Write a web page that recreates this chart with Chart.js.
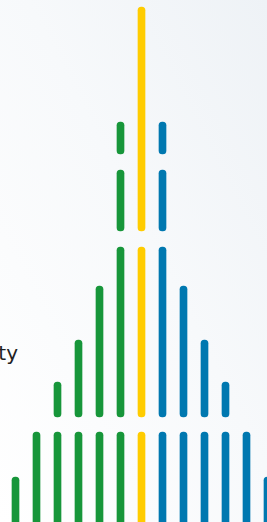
<!DOCTYPE html>
<html>
<head>
<meta charset="utf-8">
<script src="https://cdn.jsdelivr.net/npm/chart.js@4"></script>
<style>
  html, body {
    margin: 0;
    width: 267px;
    height: 522px;
    overflow: hidden;
  }
  body {
    position: relative;
    background: linear-gradient(to bottom left, #eef2f6 0%, #f7f9fb 45%, #ffffff 100%);
  }
  #wrap {
    position: absolute;
    left: 5px;
    top: 0;
  }
  #label {
    position: absolute;
    left: -60px;
    width: 78px;
    top: 343px;
    text-align: right;
    font: 20px "DejaVu Sans", sans-serif;
    line-height: 20px;
    color: #222222;
  }
</style>
</head>
<body>
<div id="label">ty</div>
<div id="wrap"><canvas id="myChart" width="273" height="522"></canvas></div>
<script>
  // one column per category, colour by side of the peak
  const columns = ['1', '2', '3', '4', '5', '6', '7', '8', '9', '10', '11', '12', '13'];
  const columnColors = ['#17963a', '#17963a', '#17963a', '#17963a', '#17963a', '#17963a',
    '#ffcc00', '#0078b0', '#0078b0', '#0078b0', '#0078b0', '#0078b0', '#0078b0'];

  // segments of each column, [from, to], stacked with gaps
  const level1 = [[-10, 45], [-10, 90], [-10, 90], [-10, 90], [-10, 90], [-10, 90], [-10, 90],
    [-10, 90], [-10, 90], [-10, 90], [-10, 90], [-10, 90], [-10, 45]];
  const level2 = [null, null, [105, 140], [105, 182], [105, 236], [105, 275], [105, 275],
    [105, 275], [105, 236], [105, 182], [105, 140], null, null];
  const level3 = [null, null, null, null, null, [291, 352], [291, 515],
    [291, 352], null, null, null, null, null];
  const level4 = [null, null, null, null, null, [368, 400], null,
    [368, 400], null, null, null, null, null];

  const ctx = document.getElementById('myChart').getContext('2d');

  const segment = (data) => ({
    data: data,
    backgroundColor: columnColors,
    barThickness: 7,
    borderRadius: 10,
    borderSkipped: false,
    borderWidth: 0
  });

  new Chart(ctx, {
    type: 'bar',
    data: {
      labels: columns,
      datasets: [segment(level1), segment(level2), segment(level3), segment(level4)]
    },
    options: {
      responsive: false,
      animation: false,
      devicePixelRatio: 1,
      layout: { padding: 0 },
      plugins: {
        legend: { display: false },
        tooltip: { enabled: false }
      },
      scales: {
        x: {
          stacked: true,
          display: false,
          offset: true
        },
        y: {
          stacked: false,
          display: false,
          min: 0,
          max: 522
        }
      }
    }
  });
</script>
</body>
</html>
